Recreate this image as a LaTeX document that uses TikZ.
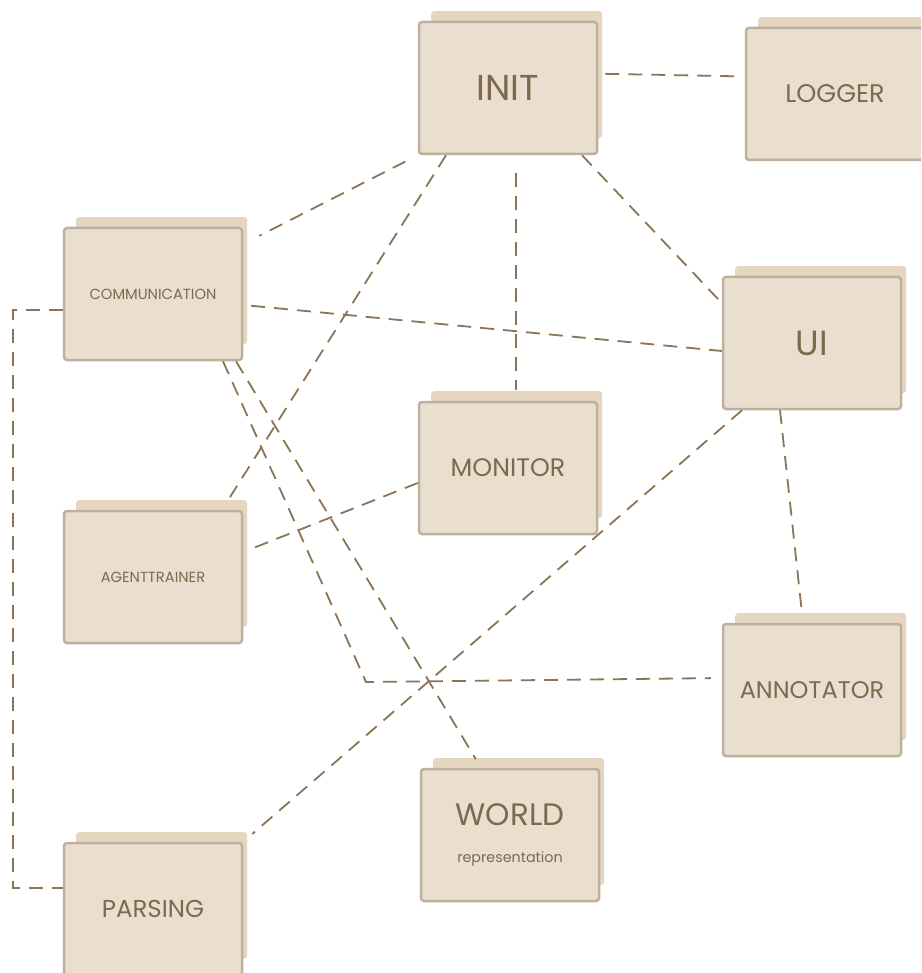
\documentclass[tikz,border=0pt]{standalone}
\usepackage{fontspec}
\setmainfont{Poppins}
\usepackage{tikz}
\usetikzlibrary{shadows}
\definecolor{boxfill}{RGB}{234,223,206}
\definecolor{backfill}{RGB}{230,214,192}
\definecolor{boxline}{RGB}{190,176,158}
\definecolor{txtcol}{RGB}{125,106,78}
\definecolor{linkcol}{RGB}{139,117,85}

\begin{document}
\begin{tikzpicture}[x=1pt, y=-1pt,
	module/.style={draw=boxline, line width=2.5pt, fill=boxfill, rounded corners=3pt,
		minimum width=178pt, minimum height=132pt, text=txtcol, align=center,
		general shadow={shadow xshift=9pt, shadow yshift=14pt, shadow scale=0.96, fill=backfill, draw=none}},
	link/.style={draw=linkcol, line width=1.8pt, dash pattern=on 14pt off 9pt}]
		\fill[white] (0,0) rectangle (921,973);
		\useasboundingbox (0,0) rectangle (921,973);
		\clip (0,0) rectangle (921,973);
		\node[module, font=\fontsize{36}{40}\selectfont] (init) at (508,88) {INIT};
		\node[module, font=\fontsize{25.5}{28}\selectfont] (logger) at (835,94) {LOGGER};
		\node[module, font=\fontsize{14.7}{17}\selectfont] (comm) at (153,294) {COMMUNICATION};
		\node[module, font=\fontsize{35}{40}\selectfont] (ui) at (812,343) {UI};
		\node[module, font=\fontsize{25.3}{28}\selectfont] (monitor) at (508,468) {MONITOR};
		\node[module, font=\fontsize{14.7}{17}\selectfont] (agent) at (153,577) {AGENTTRAINER};
		\node[module, font=\fontsize{24}{26}\selectfont] (annot) at (812,690) {ANNOTATOR};
		\node[module, font=\fontsize{31}{34}\selectfont] (world) at (510,835) {WORLD\\[3pt]{\fontsize{14.3}{16}\selectfont representation}};
		\node[module, font=\fontsize{24.5}{28}\selectfont] (parsing) at (153,909) {PARSING};
		\coordinate (bend) at (366,682);
		\draw[link, shorten <=7pt, shorten >=7pt] (init.9) -- (logger.169);
		\draw[link, shorten <=14pt, shorten >=18pt] (init.south west) -- (comm.29);
		\draw[link, shorten >=15pt] ([xshift=-62pt]init.south) -- ([xshift=69pt]agent.north);
		\draw[link, shorten <=18pt, shorten >=11pt] ([xshift=8pt]init.south) -- ([xshift=8pt]monitor.north);
		\draw[link] ([xshift=74pt]init.south) -- ([yshift=40pt]ui.west);
		\draw[link, shorten <=8pt] ([yshift=-11pt]comm.east) -- ([yshift=-8pt]ui.west);
		\draw[link] ([yshift=-16pt]comm.west) -- ++(-50,0) |- ([yshift=21pt]parsing.west);
		\draw[link, shorten >=11pt] ([xshift=70pt]comm.south) -- (bend) -- ([yshift=12pt]annot.west);
		\draw[link, shorten >=10pt] ([xshift=83pt]comm.south) -- ([xshift=-29pt]world.north);
		\draw[link, shorten >=8pt] ([yshift=-15pt]monitor.west) -- ([yshift=25pt]agent.east);
		\draw[link, shorten >=12pt] ([xshift=-70pt]ui.south) -- (parsing.north east);
		\draw[link, shorten >=12pt] ([xshift=-32pt]ui.south) -- ([xshift=-9pt]annot.north);
	\end{tikzpicture}
\end{document}
